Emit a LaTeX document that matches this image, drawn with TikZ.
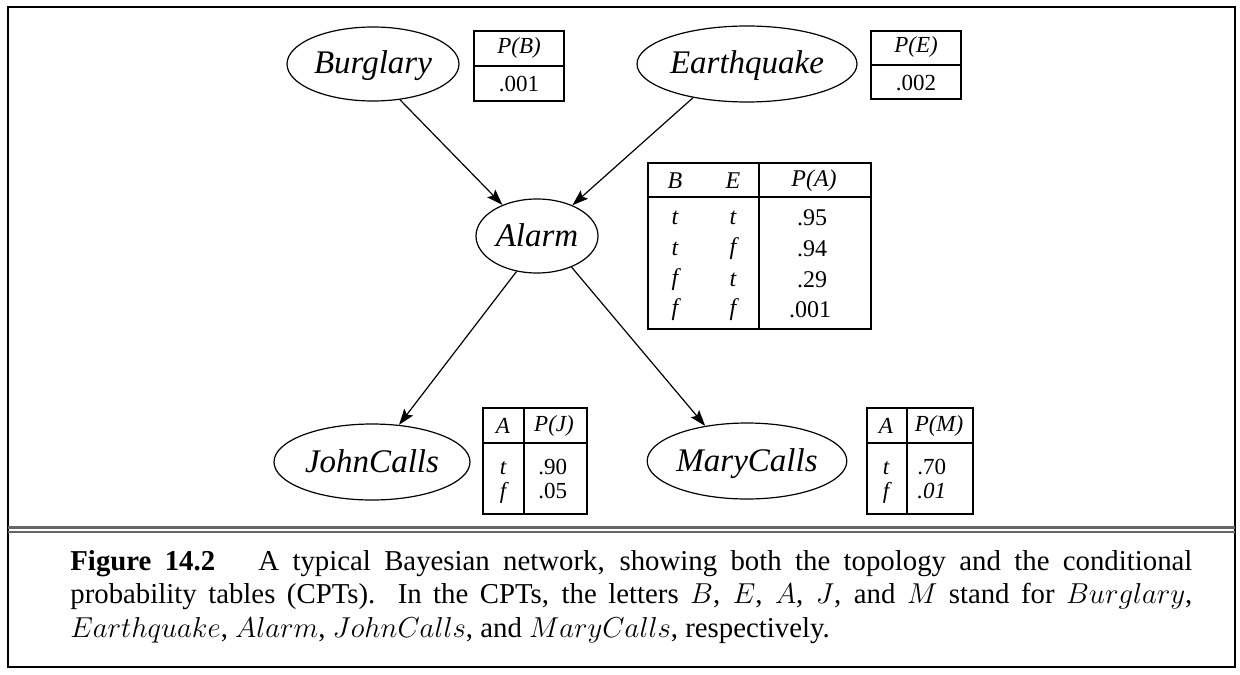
\documentclass[tikz,border=0pt]{standalone}
\usepackage{fontspec}
\setmainfont{Liberation Serif}
\usetikzlibrary{arrows.meta,shapes.geometric}
\begin{document}
\begin{tikzpicture}[x=0.5pt,y=-0.5pt,
  var/.style={ellipse,draw,line width=0.6pt,inner sep=0pt,text height=12pt,text depth=2pt,font=\fontsize{16.5}{19}\selectfont\itshape},
  tbl/.style={draw,line width=0.8pt,inner sep=0pt,rectangle},
  rule/.style={line width=0.8pt},
  tx/.style={inner sep=0pt,font=\fontsize{11.5}{13}\selectfont},
  txA/.style={inner sep=0pt,font=\fontsize{12}{14}\selectfont},
  edge/.style={line width=0.6pt,-{Stealth[length=8pt,width=5.5pt,inset=1.5pt]}},
  sep/.style={line width=1.1pt,black!60}
]
\useasboundingbox (0,0) rectangle (1240,674);
\draw[line width=1pt] (8,7) rectangle (1235,667);
\draw[sep] (8,527.5) -- (1235,527.5);
\draw[sep] (8,532) -- (1235,532);

% nodes
\node[var,minimum width=86pt,minimum height=37pt] (bur) at (373,64) {Burglary};
\node[var,minimum width=110pt,minimum height=38pt] (eq) at (747,64) {Earthquake};
\node[var,minimum width=61pt,minimum height=37pt] (al) at (537,236) {Alarm};
\node[var,minimum width=98pt,minimum height=38pt] (jc) at (372,462) {JohnCalls};
\node[var,minimum width=99pt,minimum height=38pt] (mc) at (747,461) {MaryCalls};

% arrows
\draw[edge] (bur.-53) -- (al.138);
\draw[edge] (eq.-148) -- (al.41);
\draw[edge] (al.-120) -- (jc.54);
\draw[edge] (al.-42) -- (mc.140);

% P(B)
\node[tbl,minimum width=45pt,minimum height=35pt] (tb) at (519,66) {};
\draw[rule] (474,66) -- (564,66);
\node[tx] (tbh) at (519,48) {\itshape P(B)};
\node[tx] (tbv) at (519,84) {.001};

% P(E)
\node[tbl,minimum width=45pt,minimum height=34pt] (te) at (916,65) {};
\draw[rule] (871,65) -- (961,65);
\node[tx] (teh) at (916,47) {\itshape P(E)};
\node[tx] (tev) at (916,83) {.002};

% P(A)
\node[tbl,minimum width=111.5pt,minimum height=83pt] (ta) at (759.5,246) {};
\draw[rule] (759,163) -- (759,329);
\draw[line width=1.1pt] (648,197) -- (871,197);
\node[txA] (tah1) at (675,181) {\itshape B};
\node[txA] (tah2) at (733,181) {\itshape E};
\node[txA] (tah3) at (814,181) {\itshape P(A)};
\node[txA] (ta11) at (675,218) {\itshape t};
\node[txA] (ta12) at (733,218) {\itshape t};
\node[txA] (ta13) at (812,218) {.95};
\node[txA] (ta21) at (675,249) {\itshape t};
\node[txA] (ta22) at (733,249) {\itshape f};
\node[txA] (ta23) at (812,249) {.94};
\node[txA] (ta31) at (675,280) {\itshape f};
\node[txA] (ta32) at (733,280) {\itshape t};
\node[txA] (ta33) at (812,280) {.29};
\node[txA] (ta41) at (675,310) {\itshape f};
\node[txA] (ta42) at (733,310) {\itshape f};
\node[txA] (ta43) at (810,310) {.001};

% P(J)
\node[tbl,minimum width=52pt,minimum height=53pt] (tj) at (535,461) {};
\draw[rule] (524,408) -- (524,514);
\draw[rule] (483,443) -- (587,443);
\node[tx] (tjh1) at (503,426) {\itshape A};
\node[tx] (tjh2) at (554,426) {\itshape P(J)};
\node[tx,anchor=base] (tj11) at (503,474) {\itshape t};
\node[tx,anchor=base west] (tj12) at (538,474) {.90};
\node[tx,anchor=base] (tj21) at (503,498) {\itshape f};
\node[tx,anchor=base west] (tj22) at (538,498) {.05};

% P(M)
\node[tbl,minimum width=53pt,minimum height=53pt] (tm) at (920,461) {};
\draw[rule] (907,408) -- (907,514);
\draw[rule] (867,443) -- (973,443);
\node[tx] (tmh1) at (886,426) {\itshape A};
\node[tx] (tmh2) at (939,426) {\itshape P(M)};
\node[tx,anchor=base] (tm11) at (886,474) {\itshape t};
\node[tx,anchor=base west] (tm12) at (917,474) {.70};
\node[tx,anchor=base] (tm21) at (886,498) {\itshape f};
\node[tx,anchor=base west] (tm22) at (917,498) {\itshape .01};

% caption
\node[anchor=north west,inner sep=0pt,text width=561pt,align=justify,
  font=\fontsize{14.4}{16.75}\selectfont] (cap) at (70,550)
{\textbf{Figure 14.2}\hspace{1.5em}A typical Bayesian network, showing both the topology and the conditional\linebreak
probability tables (CPTs). In the CPTs, the letters $B$, $E$, $A$, $J$, and $M$ stand for $Burglary$,\linebreak
$Earthquake$, $Alarm$, $JohnCalls$, and $MaryCalls$, respectively.};
\end{tikzpicture}
\end{document}
